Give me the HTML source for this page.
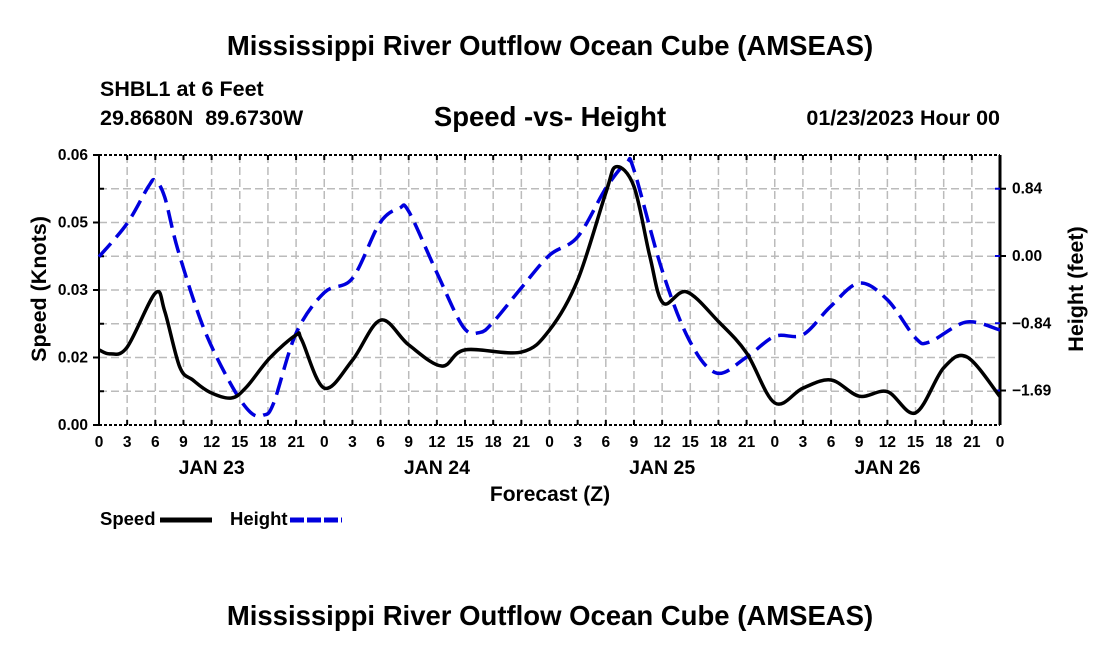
<!DOCTYPE html>
<html><head><meta charset="utf-8"><style>
body{margin:0;background:#fff;}
svg text{font-family:"Liberation Sans",sans-serif;font-weight:bold;}
</style></head><body>
<svg width="1100" height="650" xmlns="http://www.w3.org/2000/svg">
<text x="550" y="55" font-size="27.5" text-anchor="middle">Mississippi River Outflow Ocean Cube (AMSEAS)</text>
<text x="100" y="96" font-size="21.5">SHBL1 at 6 Feet</text>
<text x="100" y="125" font-size="21.5" xml:space="preserve">29.8680N  89.6730W</text>
<text x="550" y="126" font-size="27.5" text-anchor="middle">Speed -vs- Height</text>
<text x="1000" y="125" font-size="21.5" text-anchor="end">01/23/2023 Hour 00</text>
<g id="grid"></g>
<g id="axes"></g>
<g id="series"></g>
<text x="550" y="501" font-size="21" text-anchor="middle">Forecast (Z)</text>
<text transform="translate(46,289) rotate(-90)" font-size="21.5" text-anchor="middle">Speed (Knots)</text>
<text transform="translate(1083,289) rotate(-90)" font-size="21.5" text-anchor="middle">Height (feet)</text>
<g>
<text x="100" y="525" font-size="18.5">Speed</text>
<line x1="160" y1="520" x2="212" y2="520" stroke="#000" stroke-width="5"/>
<text x="230" y="525" font-size="18.5">Height</text>
<line x1="290" y1="520" x2="342" y2="520" stroke="#0000dd" stroke-width="5" stroke-dasharray="14,3"/>
</g>
<text x="550" y="625" font-size="27.5" text-anchor="middle">Mississippi River Outflow Ocean Cube (AMSEAS)</text>
</svg>
<script>
const speedHours=[0,1.2,3,6,7,8.6,10,11.8,14.1,15.7,18.2,21,21.6,24,27,30,33,36.5,39,45,48,51,54,55.1,57,58.7,60.1,62.6,66,69,72,75,78,81,84,87,90,92.5,96];
const speedValues=[0.0167,0.0158,0.0173,0.0293,0.0253,0.0129,0.010,0.0073,0.006,0.0084,0.0149,0.020,0.0189,0.0082,0.0144,0.0233,0.0178,0.0131,0.0167,0.0162,0.0211,0.0322,0.0516,0.0574,0.053,0.0374,0.0271,0.0296,0.023,0.016,0.0049,0.0082,0.010,0.0064,0.0074,0.0027,0.0127,0.0151,0.0063];
const heightHours=[0,3,5.25,6,7,8.4,11.1,14,16.1,17.5,18.6,21,24,27,29.9,32,33,36,38.8,40.6,42,45,48,51,54,56.2,57,60,62.9,65.8,69,72,75,77.9,81,84,87,88.5,92.4,96];
const heightValues=[-0.01,0.41,0.87,0.95,0.74,0.08,-0.89,-1.6,-1.96,-2.0,-1.85,-0.97,-0.46,-0.28,0.41,0.6,0.56,-0.21,-0.89,-0.96,-0.83,-0.4,0.01,0.24,0.85,1.17,1.08,-0.18,-1.06,-1.47,-1.27,-1.01,-0.99,-0.64,-0.34,-0.55,-1.03,-1.08,-0.83,-0.93];
const xTickLabels=["0","3","6","9","12","15","18","21"];
const dayLabels=["JAN 23","JAN 24","JAN 25","JAN 26"];
const speedTicks=[0,0.015,0.03,0.045,0.06];
const speedTickLabels=["0.00","0.02","0.03","0.05","0.06"];
const heightTicks=[0.845,0,-0.845,-1.69];
const heightTickLabels=["0.84","0.00","-0.84","-1.69"];

const L=99,R=1000,T=155,B=425;
const xs=h=>L+h/96*(R-L);
const ys=v=>B-v/0.06*(B-T);
const yh=v=>256-v*79.6;
const NS="http://www.w3.org/2000/svg";
function mk(tag,attrs,parent,text){const e=document.createElementNS(NS,tag);for(const k in attrs)e.setAttribute(k,attrs[k]);if(text!==undefined)e.textContent=text;parent.appendChild(e);return e;}
const grid=document.getElementById('grid'),axes=document.getElementById('axes'),ser=document.getElementById('series');
for(let i=1;i<8;i++){const y=T+i*(B-T)/8;const g=mk('line',{x1:L,x2:R,y1:y,y2:y,stroke:'#bbb','stroke-width':1.5,'stroke-dasharray':'8,4'},grid);

}
for(let i=0;i<=32;i++){const x=xs(i*3);
if(i>0&&i<32){const g=mk('line',{x1:x,x2:x,y1:T,y2:B,stroke:'#bbb','stroke-width':1.5,'stroke-dasharray':'8,4'},grid);

}
mk('line',{x1:x,x2:x,y1:B,y2:B-5,stroke:'#000','stroke-width':2},axes);
mk('line',{x1:x,x2:x,y1:T,y2:T+5,stroke:'#000','stroke-width':2},axes);
const t=mk('text',{x:x,y:447,'font-size':15.5,'text-anchor':'middle'},axes,xTickLabels[i%8]);

}
dayLabels.forEach((d,i)=>{const t=mk('text',{x:xs(i*24+12),y:474,'font-size':19.5,'text-anchor':'middle'},axes,d);

});
mk('line',{x1:L,x2:R,y1:T,y2:T,stroke:'#000','stroke-width':2,'stroke-dasharray':'3,2'},axes);
mk('line',{x1:L,x2:R,y1:B,y2:B,stroke:'#000','stroke-width':2,'stroke-dasharray':'3,2'},axes);
mk('line',{x1:L,x2:L,y1:T,y2:B,stroke:'#000','stroke-width':2},axes);
mk('line',{x1:R,x2:R,y1:T,y2:B,stroke:'#000','stroke-width':3},axes);
speedTicks.forEach((v,i)=>{const y=ys(v);mk('line',{x1:L-6,x2:L,y1:y,y2:y,stroke:'#000','stroke-width':2},axes);
const t=mk('text',{x:L-11,y:y+5,'font-size':15.5,'text-anchor':'end'},axes,speedTickLabels[i]);

});
for(let i=1;i<8;i+=2){const y=T+i*(B-T)/8;mk('line',{x1:L,x2:L+5,y1:y,y2:y,stroke:'#000','stroke-width':2},axes);}
heightTicks.forEach((v,i)=>{const y=yh(v);mk('line',{x1:R,x2:R+6,y1:y,y2:y,stroke:'#000','stroke-width':2},axes);
mk('line',{x1:R-5,x2:R,y1:y,y2:y,stroke:'#0000dd','stroke-width':2},axes);
const t=mk('text',{x:R+12,y:y+5,'font-size':15.5},axes,heightTickLabels[i].replace('-','\u2212'));

});
function smooth(pts){let d='M'+pts[0][0]+','+pts[0][1];
for(let i=0;i<pts.length-1;i++){const p0=pts[Math.max(0,i-1)],p1=pts[i],p2=pts[i+1],p3=pts[Math.min(pts.length-1,i+2)];
const c1=[p1[0]+(p2[0]-p0[0])/6,p1[1]+(p2[1]-p0[1])/6],c2=[p2[0]-(p3[0]-p1[0])/6,p2[1]-(p3[1]-p1[1])/6];
d+=' C'+c1[0]+','+c1[1]+' '+c2[0]+','+c2[1]+' '+p2[0]+','+p2[1];}return d;}
const hp=mk('path',{d:smooth(heightHours.map((h,i)=>[xs(h),yh(heightValues[i])])),fill:'none',stroke:'#0000dd','stroke-width':3.5,'stroke-dasharray':'18,8'},ser);


const sp=mk('path',{d:smooth(speedHours.map((h,i)=>[xs(h),ys(speedValues[i])])),fill:'none',stroke:'#000','stroke-width':3.5},ser);


</script>
</body></html>
